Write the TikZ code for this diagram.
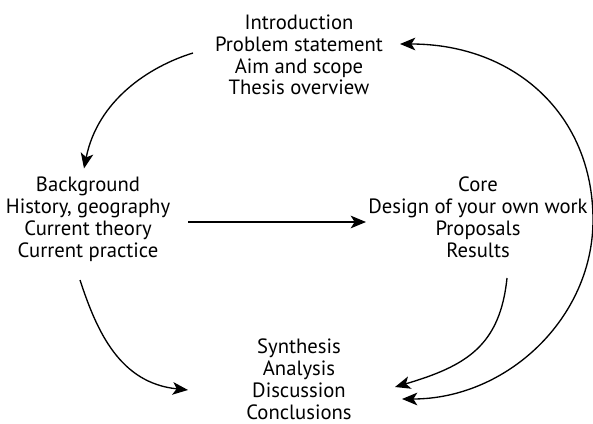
\documentclass[tikz,border=0pt]{standalone}
\usepackage{fontspec}
\setmainfont{PT Sans}
\usetikzlibrary{arrows.meta,calc}
\tikzset{every picture/.style={line width=0.75pt}}
\tikzset{
	part/.style={align=center,inner sep=0pt,font=\fontsize{15.5}{16.4}\selectfont},
	flow/.style={line width=1pt},
	>={Stealth[length=11.5pt,width=9.5pt,inset=3pt]}}

\begin{document}
\begin{tikzpicture}[x=0.75pt,y=0.75pt,yscale=-1,xscale=1]
	\useasboundingbox (0,0) rectangle (593,424);

	% Text Node
	\node[part] (intro) at (299,55) {Introduction\\Problem statement\\Aim and scope\\Thesis overview};
	% Text Node
	\node[part] (backgr) at (88,219.5) {Background\\History, geography\\Current theory\\Current practice};
	% Text Node
	\node[part] (core) at (478,217) {Core\\Design of your own work\\Proposals\\Results};
	% Text Node
	\node[part] (synth) at (299,379) {Synthesis\\Analysis\\Discussion\\Conclusions};

	%Curve Lines
	\draw[flow,->] ($(intro)+(-106,-2)$) .. controls +(-44,13.5) and +(13.6,-68) .. ($(backgr)+(-4,-51)$);
	%Straight Lines
	\draw[flow,->] ($(backgr)+(100,2.5)$) -- ($(core)+(-112,5)$);
	%Curve Lines
	\draw[flow,->] ($(backgr)+(-8,60.5)$) .. controls +(17,52) and +(-68,-7) .. ($(synth)+(-111,11)$);
	%Curve Lines
	\draw[flow,->] ($(core)+(29,61)$) .. controls +(-7,68) and +(71,-21) .. ($(synth)+(96,8)$);
	%Curve Lines
	\draw[flow,<->] ($(intro)+(101,-11)$) .. controls +(115,0) and +(0,-105) .. ($(core)+(115,3)$)
		.. controls +(0,98) and +(105,0) .. ($(synth)+(103,20)$);

\end{tikzpicture}
\end{document}
